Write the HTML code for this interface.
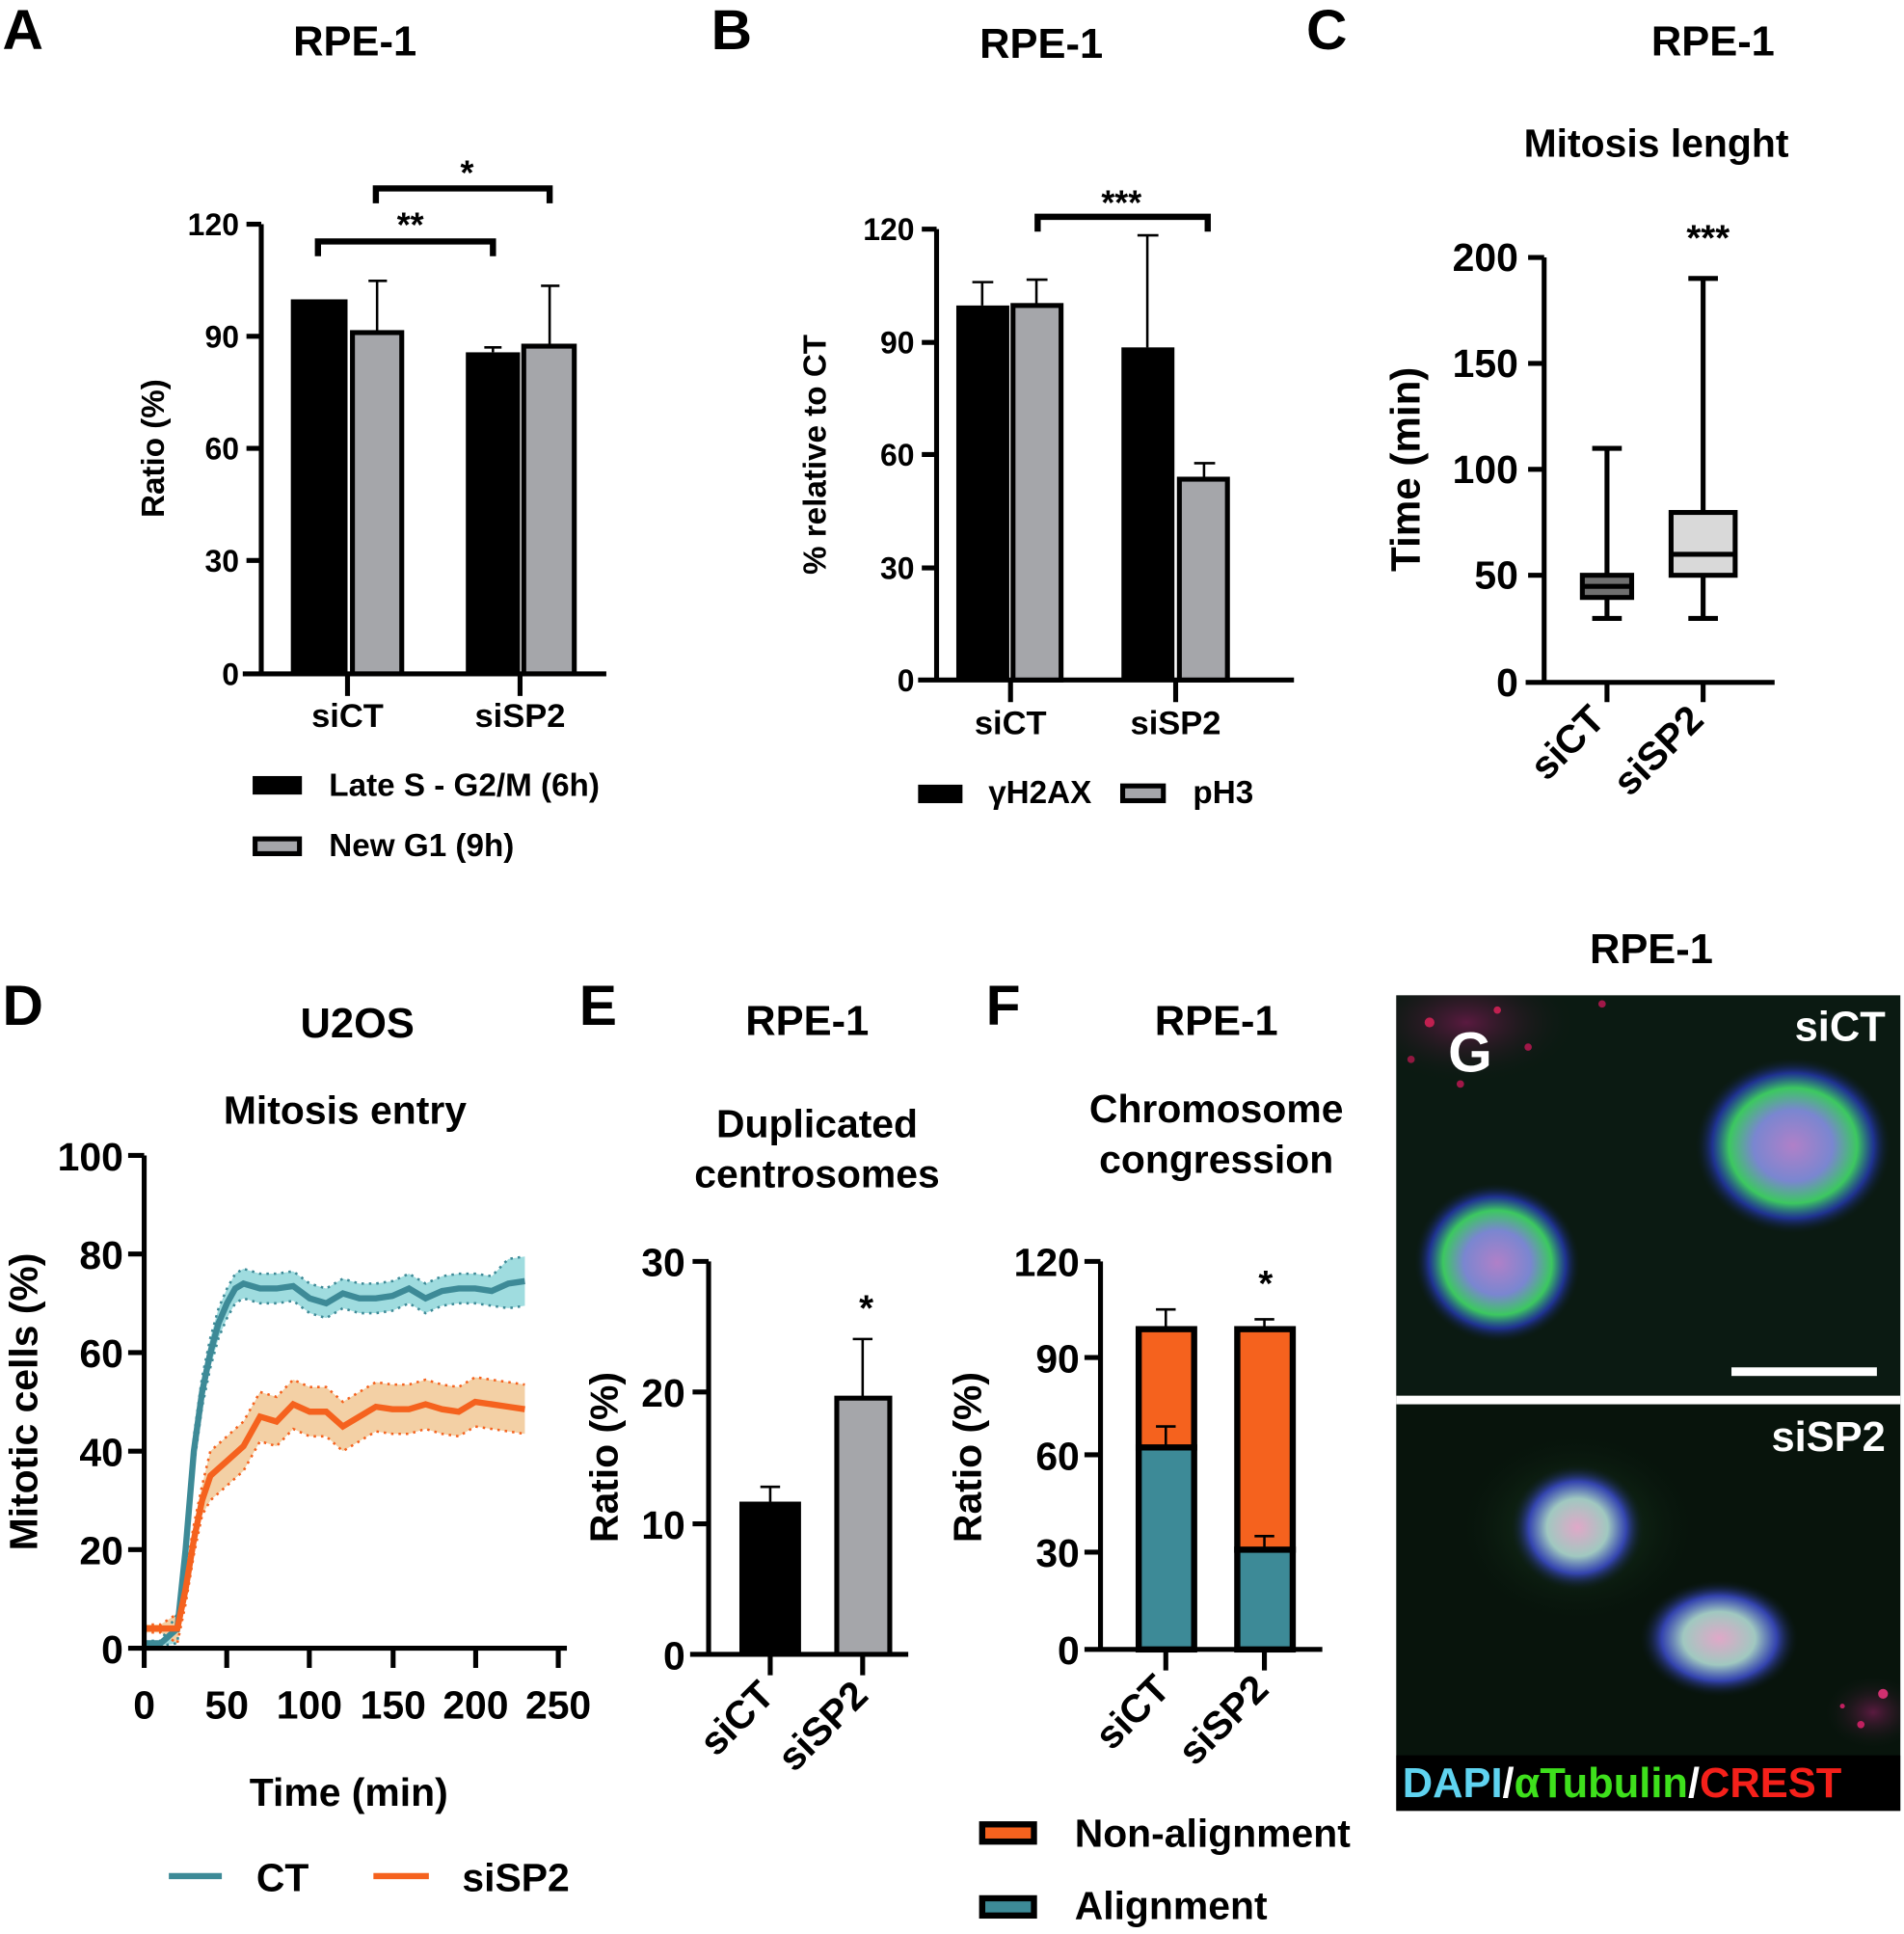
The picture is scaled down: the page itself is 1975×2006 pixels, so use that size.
<!DOCTYPE html>
<html><head><meta charset="utf-8"><style>
html,body{margin:0;padding:0;background:#fff}
svg{display:block}
text{font-family:"Liberation Sans",Arial,sans-serif;font-weight:bold;fill:#000}
</style></head><body>
<svg width="1975" height="2006" viewBox="0 0 1545 1570" preserveAspectRatio="none" xmlns="http://www.w3.org/2000/svg">
<defs>
<radialGradient id="cb" cx="50%" cy="50%" r="50%"><stop offset="0" stop-color="#b080c8"/><stop offset="0.4" stop-color="#7a86d0"/><stop offset="0.65" stop-color="#3cc860"/><stop offset="0.82" stop-color="#2438b0" stop-opacity="0.8"/><stop offset="1" stop-color="#0b1a12" stop-opacity="0"/></radialGradient>
<radialGradient id="cb2" cx="50%" cy="50%" r="50%"><stop offset="0" stop-color="#e0a8c8"/><stop offset="0.45" stop-color="#a0c8c0"/><stop offset="0.72" stop-color="#3848c0" stop-opacity="0.9"/><stop offset="1" stop-color="#08140c" stop-opacity="0"/></radialGradient>
<radialGradient id="halo" cx="50%" cy="50%" r="50%"><stop offset="0" stop-color="#1f4a25"/><stop offset="1" stop-color="#08140c" stop-opacity="0"/></radialGradient>
<radialGradient id="red" cx="50%" cy="50%" r="50%"><stop offset="0" stop-color="#5a1a40"/><stop offset="1" stop-color="#0b1a12" stop-opacity="0"/></radialGradient>
<clipPath id="gt"><rect x="1133" y="808" width="409" height="325"/></clipPath>
<clipPath id="gb"><rect x="1133" y="1140" width="409" height="285"/></clipPath>
</defs>

<!-- Panel A -->
<text x="2" y="40" font-size="46">A</text>
<text x="288" y="45" font-size="34" text-anchor="middle">RPE-1</text>
<g stroke="#000" stroke-width="4" fill="none">
<path d="M212 182V547M197 547H492"/>
<path d="M200 182H212M200 273H212M200 364H212M200 455H212M282 547V565M422 547V565"/>
</g>
<g font-size="25" text-anchor="end"><text x="194" y="191">120</text><text x="194" y="282">90</text><text x="194" y="373">60</text><text x="194" y="464">30</text><text x="194" y="556">0</text></g>
<text transform="translate(133,364) rotate(-90)" font-size="26" text-anchor="middle">Ratio (%)</text>
<rect x="236" y="243" width="46" height="304" fill="#000"/>
<rect x="286" y="270" width="40" height="277" fill="#a5a6aa" stroke="#000" stroke-width="4"/>
<rect x="378" y="286" width="44" height="261" fill="#000"/>
<rect x="425" y="281" width="41" height="266" fill="#a5a6aa" stroke="#000" stroke-width="4"/>
<g stroke="#000" stroke-width="2" fill="none"><path d="M306 270V228M299 228H314M400 286V282M393 282H407M446 281V232M439 232H454"/></g>
<g stroke="#000" stroke-width="5" fill="none"><path d="M258 208V196H400V208M305 165V153H446V165"/></g>
<text x="333" y="192" font-size="28" text-anchor="middle">**</text>
<text x="379" y="150" font-size="28" text-anchor="middle">*</text>
<text x="282" y="590" font-size="27" text-anchor="middle">siCT</text>
<text x="422" y="590" font-size="27" text-anchor="middle">siSP2</text>
<rect x="205" y="630" width="40" height="15" fill="#000"/>
<text x="267" y="646" font-size="26">Late S - G2/M (6h)</text>
<rect x="207" y="681" width="36" height="12" fill="#a5a6aa" stroke="#000" stroke-width="4"/>
<text x="267" y="695" font-size="26">New G1 (9h)</text>

<!-- Panel B -->
<text x="577" y="40" font-size="46">B</text>
<text x="845" y="47" font-size="34" text-anchor="middle">RPE-1</text>
<g stroke="#000" stroke-width="4" fill="none">
<path d="M760 186V552M745 552H1050"/>
<path d="M748 186H760M748 278H760M748 369H760M748 461H760M820 552V570M954 552V570"/>
</g>
<g font-size="25" text-anchor="end"><text x="742" y="195">120</text><text x="742" y="287">90</text><text x="742" y="378">60</text><text x="742" y="470">30</text><text x="742" y="561">0</text></g>
<text transform="translate(670,369) rotate(-90)" font-size="26" text-anchor="middle">% relative to CT</text>
<rect x="776" y="248" width="43" height="304" fill="#000"/>
<rect x="822" y="248" width="39" height="304" fill="#a5a6aa" stroke="#000" stroke-width="4"/>
<rect x="910" y="282" width="43" height="270" fill="#000"/>
<rect x="957" y="389" width="39" height="163" fill="#a5a6aa" stroke="#000" stroke-width="4"/>
<g stroke="#000" stroke-width="2" fill="none"><path d="M797 248V229M789 229H806M841 248V227M833 227H850M931 282V191M923 191H940M977 389V376M969 376H986"/></g>
<path d="M842 188V176H980V188" stroke="#000" stroke-width="5" fill="none"/>
<text x="910" y="174" font-size="28" text-anchor="middle">***</text>
<text x="820" y="596" font-size="27" text-anchor="middle">siCT</text>
<text x="954" y="596" font-size="27" text-anchor="middle">siSP2</text>
<rect x="745" y="637" width="36" height="15" fill="#000"/>
<text x="802" y="652" font-size="26">γH2AX</text>
<rect x="911" y="638" width="33" height="12" fill="#a5a6aa" stroke="#000" stroke-width="4"/>
<text x="968" y="652" font-size="26">pH3</text>

<!-- Panel C -->
<text x="1060" y="40" font-size="46">C</text>
<text x="1390" y="45" font-size="34" text-anchor="middle">RPE-1</text>
<text x="1344" y="127" font-size="32" text-anchor="middle">Mitosis lenght</text>
<g stroke="#000" stroke-width="4" fill="none">
<path d="M1253 209V554M1238 554H1440"/>
<path d="M1240 209H1253M1240 295H1253M1240 381H1253M1240 467H1253M1304 554V570M1382 554V570"/>
</g>
<g font-size="32" text-anchor="end"><text x="1232" y="220">200</text><text x="1232" y="306">150</text><text x="1232" y="392">100</text><text x="1232" y="478">50</text><text x="1232" y="565">0</text></g>
<text transform="translate(1152,381) rotate(-90)" font-size="33" text-anchor="middle">Time (min)</text>
<g stroke="#000" stroke-width="4">
<path d="M1304 467V364M1292 364H1316M1304 485V502M1292 502H1316"/>
<rect x="1284" y="467" width="40" height="18" fill="#6f6f6f"/>
<path d="M1284 476H1324"/>
<path d="M1382 416V226M1370 226H1394M1382 467V502M1370 502H1394"/>
<rect x="1356" y="416" width="52" height="51" fill="#d9d9d9"/>
<path d="M1356 450H1408"/>
</g>
<text x="1386" y="203" font-size="30" text-anchor="middle">***</text>
<text transform="translate(1304,586) rotate(-45)" font-size="32" text-anchor="end">siCT</text>
<text transform="translate(1384,586) rotate(-45)" font-size="32" text-anchor="end">siSP2</text>

<text x="1340" y="782" font-size="34" text-anchor="middle">RPE-1</text>

<!-- Panel D -->
<text x="2" y="832" font-size="46">D</text>
<text x="290" y="842" font-size="34" text-anchor="middle">U2OS</text>
<text x="280" y="912" font-size="32" text-anchor="middle">Mitosis entry</text>
<g id="dplot"></g>
<g stroke="#000" stroke-width="4" fill="none">
<path d="M117 938V1338M117 1338H460"/>
<path d="M104 938H117M104 1018H117M104 1098H117M104 1178H117M104 1258H117M104 1338H117"/>
<path d="M117 1338V1354M184 1338V1354M251 1338V1354M319 1338V1354M386 1338V1354M453 1338V1354"/>
</g>
<g font-size="32" text-anchor="end"><text x="100" y="950">100</text><text x="100" y="1030">80</text><text x="100" y="1110">60</text><text x="100" y="1190">40</text><text x="100" y="1270">20</text><text x="100" y="1350">0</text></g>
<g font-size="32" text-anchor="middle"><text x="117" y="1395">0</text><text x="184" y="1395">50</text><text x="251" y="1395">100</text><text x="319" y="1395">150</text><text x="386" y="1395">200</text><text x="453" y="1395">250</text></g>
<text transform="translate(30,1138) rotate(-90)" font-size="32" text-anchor="middle">Mitotic cells (%)</text>
<text x="283" y="1466" font-size="32" text-anchor="middle">Time (min)</text>
<path d="M137 1523H180" stroke="#3d8a97" stroke-width="5"/>
<text x="208" y="1535" font-size="32">CT</text>
<path d="M303 1523H348" stroke="#f5621e" stroke-width="5"/>
<text x="375" y="1535" font-size="32">siSP2</text>

<!-- Panel E -->
<text x="470" y="832" font-size="46">E</text>
<text x="655" y="840" font-size="34" text-anchor="middle">RPE-1</text>
<text x="663" y="923" font-size="32" text-anchor="middle">Duplicated</text>
<text x="663" y="964" font-size="32" text-anchor="middle">centrosomes</text>
<g stroke="#000" stroke-width="4" fill="none">
<path d="M575 1024V1343M560 1343H737"/>
<path d="M562 1024H575M562 1130H575M562 1237H575M625 1343V1360M700 1343V1360"/>
</g>
<g font-size="32" text-anchor="end"><text x="556" y="1036">30</text><text x="556" y="1142">20</text><text x="556" y="1249">10</text><text x="556" y="1355">0</text></g>
<text transform="translate(501,1183) rotate(-90)" font-size="32" text-anchor="middle">Ratio (%)</text>
<rect x="600" y="1219" width="50" height="124" fill="#000"/>
<rect x="679" y="1135" width="43" height="208" fill="#a5a6aa" stroke="#000" stroke-width="4"/>
<g stroke="#000" stroke-width="2" fill="none"><path d="M625 1219V1207M617 1207H633M700 1135V1087M692 1087H708"/></g>
<text x="703" y="1072" font-size="30" text-anchor="middle">*</text>
<text transform="translate(630,1378) rotate(-45)" font-size="32" text-anchor="end">siCT</text>
<text transform="translate(706,1378) rotate(-45)" font-size="32" text-anchor="end">siSP2</text>

<!-- Panel F -->
<text x="800" y="832" font-size="46">F</text>
<text x="987" y="840" font-size="34" text-anchor="middle">RPE-1</text>
<text x="987" y="911" font-size="32" text-anchor="middle">Chromosome</text>
<text x="987" y="952" font-size="32" text-anchor="middle">congression</text>
<g stroke="#000" stroke-width="4" fill="none">
<path d="M893 1024V1339M880 1339H1073"/>
<path d="M880 1024H893M880 1102H893M880 1181H893M880 1260H893M946 1339V1356M1026 1339V1356"/>
</g>
<g font-size="32" text-anchor="end"><text x="876" y="1036">120</text><text x="876" y="1114">90</text><text x="876" y="1193">60</text><text x="876" y="1272">30</text><text x="876" y="1351">0</text></g>
<text transform="translate(796,1183) rotate(-90)" font-size="32" text-anchor="middle">Ratio (%)</text>
<g stroke="#000" stroke-width="5">
<rect x="924" y="1175" width="45" height="164" fill="#3d8a97"/>
<rect x="924" y="1079" width="45" height="96" fill="#f5621e"/>
<rect x="1004" y="1258" width="45" height="81" fill="#3d8a97"/>
<rect x="1004" y="1079" width="45" height="179" fill="#f5621e"/>
</g>
<g stroke="#000" stroke-width="2" fill="none"><path d="M946 1079V1063M938 1063H954M946 1175V1158M938 1158H954M1026 1079V1071M1018 1071H1034M1026 1258V1247M1018 1247H1034"/></g>
<text x="1027" y="1052" font-size="30" text-anchor="middle">*</text>
<text transform="translate(951,1373) rotate(-45)" font-size="32" text-anchor="end">siCT</text>
<text transform="translate(1031,1373) rotate(-45)" font-size="32" text-anchor="end">siSP2</text>
<rect x="797" y="1481" width="42" height="14" fill="#f5621e" stroke="#000" stroke-width="5"/>
<text x="872" y="1499" font-size="32">Non-alignment</text>
<rect x="797" y="1541" width="42" height="14" fill="#3d8a97" stroke="#000" stroke-width="5"/>
<text x="872" y="1558" font-size="32">Alignment</text>

<!-- Panel G -->
<rect x="1133" y="808" width="409" height="662" fill="#050a07"/>
<g clip-path="url(#gt)">
<rect x="1133" y="808" width="409" height="325" fill="#0b1a12"/>
<ellipse cx="1190" cy="830" rx="90" ry="50" fill="url(#red)"/>
<circle cx="1160" cy="830" r="4" fill="#c02050"/><circle cx="1215" cy="820" r="3" fill="#c02050"/><circle cx="1240" cy="850" r="3" fill="#a01848"/><circle cx="1185" cy="880" r="3" fill="#a01848"/><circle cx="1300" cy="815" r="3" fill="#a01848"/><circle cx="1145" cy="860" r="3" fill="#901840"/>
<ellipse cx="1215" cy="1025" rx="68" ry="65" fill="url(#cb)" transform="rotate(15 1215 1025)"/>
<ellipse cx="1455" cy="930" rx="80" ry="72" fill="url(#cb)"/>
</g>
<g clip-path="url(#gb)">
<rect x="1133" y="1140" width="409" height="285" fill="#08140c"/>
<ellipse cx="1280" cy="1240" rx="100" ry="80" fill="url(#halo)"/>
<ellipse cx="1280" cy="1240" rx="55" ry="52" fill="url(#cb2)"/>
<ellipse cx="1395" cy="1330" rx="65" ry="48" fill="url(#cb2)"/>
<ellipse cx="1520" cy="1390" rx="40" ry="30" fill="url(#red)"/>
<circle cx="1528" cy="1375" r="4" fill="#d03070"/><circle cx="1510" cy="1400" r="3" fill="#c02060"/><circle cx="1495" cy="1385" r="2" fill="#c02060"/>
</g>
<rect x="1133" y="1133" width="409" height="7" fill="#fff"/>
<rect x="1405" y="1110" width="118" height="7" fill="#fff"/>
<text x="1193" y="870" font-size="46" text-anchor="middle" style="fill:#fff">G</text>
<text x="1530" y="845" font-size="34" text-anchor="end" style="fill:#fff">siCT</text>
<text x="1530" y="1178" font-size="34" text-anchor="end" style="fill:#fff">siSP2</text>
<rect x="1133" y="1425" width="409" height="45" fill="#000"/>
<text x="1138" y="1459" font-size="34"><tspan style="fill:#5fd3f0">DAPI</tspan><tspan style="fill:#fff">/</tspan><tspan style="fill:#3ee01c">αTubulin</tspan><tspan style="fill:#fff">/</tspan><tspan style="fill:#f5201a">CREST</tspan></text>
</svg>
<script>
(function(){
var ct=[[0,1],[10,1],[20,4],[25,20],[30,40],[35,52],[40,60],[45,66],[50,70],[55,73],[60,74],[70,73],[80,73],[90,73.5],[100,71],[110,70],[120,72],[130,71],[140,71],[150,71.5],[160,73],[170,71],[180,72.5],[190,73],[200,73],[210,72.5],[220,74],[230,74.5]];
var sp=[[0,4],[10,4],[20,4],[25,12],[30,22],[35,30],[40,35],[50,38],[60,41],[70,47],[80,46],[90,49.5],[100,48],[110,48],[120,45],[130,47],[140,49],[150,48.5],[160,48.5],[170,49.5],[180,48.5],[190,48],[200,50],[210,49.5],[220,49],[230,48.5]];
function X(t){return 117+t*1.343}function Y(v){return 1338-v*4}
function line(d,o){return d.map(function(p,i){return (i?'L':'M')+X(p[0]).toFixed(1)+' '+Y(p[1]+o(p)).toFixed(1)}).join('')}
function band(d,e){var up=d.map(function(p){return X(p[0]).toFixed(1)+' '+Y(p[1]+e(p)).toFixed(1)});var lo=d.slice().reverse().map(function(p){return X(p[0]).toFixed(1)+' '+Y(p[1]-e(p)).toFixed(1)});return 'M'+up.join('L')+'L'+lo.join('L')+'Z'}
var ec=function(p){return p[0]<20?0.5:(p[0]>=220?5:3)},es=function(p){return p[0]<20?0.8:(p[0]<40?3:5)};
var g=document.getElementById('dplot'),ns='http://www.w3.org/2000/svg';
function add(d,a){var e=document.createElementNS(ns,'path');e.setAttribute('d',d);for(var k in a)e.setAttribute(k,a[k]);g.appendChild(e)}
add(band(ct,ec),{fill:'#9fdcdf'});
add(band(sp,es),{fill:'#f3d0a5'});
add(line(ct,ec),{fill:'none',stroke:'#3d8a97','stroke-width':2,'stroke-dasharray':'2 4'});
add(line(ct,function(p){return -ec(p)}),{fill:'none',stroke:'#3d8a97','stroke-width':2,'stroke-dasharray':'2 4'});
add(line(sp,es),{fill:'none',stroke:'#f5621e','stroke-width':2,'stroke-dasharray':'2 4'});
add(line(sp,function(p){return -es(p)}),{fill:'none',stroke:'#f5621e','stroke-width':2,'stroke-dasharray':'2 4'});
add(line(ct,function(){return 0}),{fill:'none',stroke:'#3d8a97','stroke-width':5});
add(line(sp,function(){return 0}),{fill:'none',stroke:'#f5621e','stroke-width':5});
})();
</script>
</body></html>
